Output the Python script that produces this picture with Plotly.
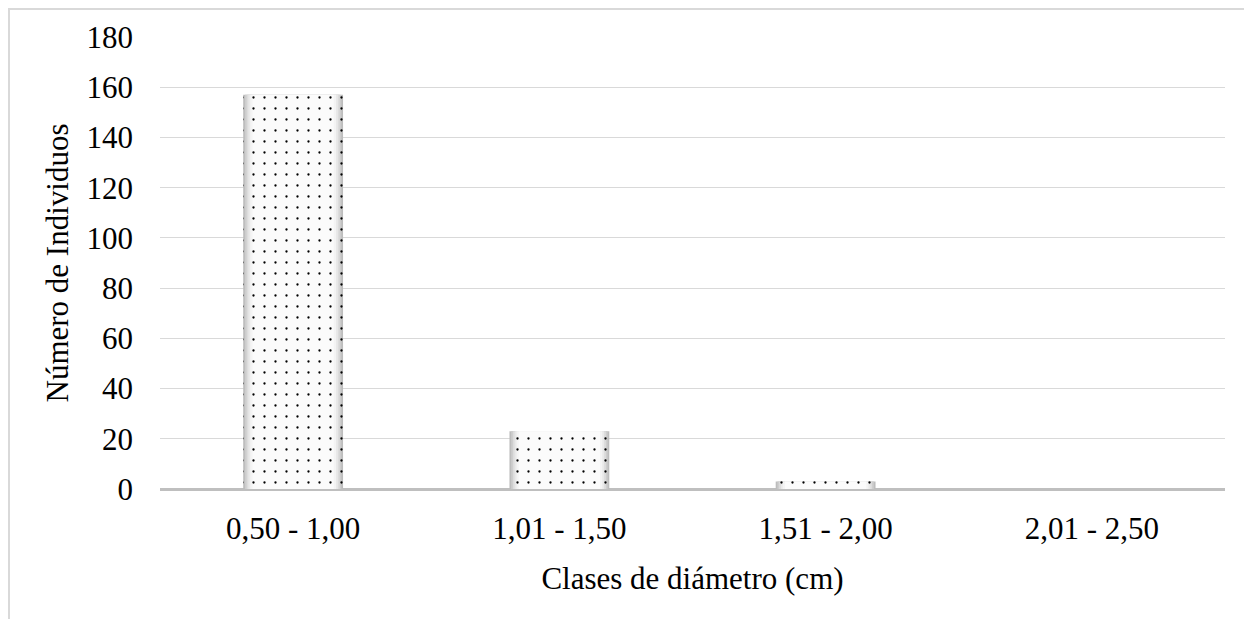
import plotly.graph_objects as go

categories = ["0,50 - 1,00", "1,01 - 1,50", "1,51 - 2,00", "2,01 - 2,50"]
counts = [157, 23, 3, 0]
y_ticks = [0, 20, 40, 60, 80, 100, 120, 140, 160, 180]

FONT = "Liberation Serif"
FS = 31
OFF = 8  # page body offset of the figure

W, H = 1252, 619
ml, mr, mt, mb = 160 - OFF, 27 + OFF, 37 - OFF, 130 + OFF
pw, ph = W - ml - mr, H - mt - mb

fig = go.Figure()
# layered bars to imitate the soft gray-to-white gradient of the original
layers = [(0.375, "#bdbdbd"), (0.362, "#cdcdcd"), (0.349, "#dcdcdc"),
          (0.336, "#e9e9e9"), (0.322, "#f4f4f4"), (0.305, "#fbfbfb")]
for i, (wd, col) in enumerate(layers):
    last = i == len(layers) - 1
    marker = dict(color=col, line=dict(width=0))
    marker["pattern"] = dict(shape=".", fgcolor="#000000", bgcolor=col,
                             size=11, solidity=0.035, fillmode="replace")
    fig.add_trace(go.Bar(
        x=categories, y=counts, width=wd, marker=marker,
        showlegend=False, hoverinfo="x+y" if last else "skip",
    ))

fig.update_layout(
    width=W, height=H,
    margin=dict(l=ml, r=mr, t=mt, b=mb),
    paper_bgcolor="white", plot_bgcolor="white",
    barmode="overlay",
    font=dict(family=FONT, size=FS, color="#000000"),
    xaxis=dict(
        title=dict(text="Clases de diámetro (cm)", font=dict(size=FS), standoff=22),
        showgrid=False, showline=False, zeroline=False,
        ticks="", ticklabelstandoff=18,
    ),
    yaxis=dict(
        title=dict(text="Número de Individuos", font=dict(size=FS), standoff=8),
        range=[0, 180], tickvals=y_ticks,
        showgrid=True, gridcolor="#d9d9d9", gridwidth=1,
        zeroline=True, zerolinecolor="#bfbfbf", zerolinewidth=3,
        showline=False, ticks="", ticklabelstandoff=26,
    ),
    shapes=[dict(
        type="rect", xref="paper", yref="paper",
        x0=(1 - ml) / pw, x1=(W + 20 - ml) / pw,
        y0=-(H + 20 - mt - ph) / ph, y1=(H - 1 - mb) / ph,
        line=dict(color="#d9d9d9", width=2), fillcolor="rgba(0,0,0,0)",
        layer="below",
    )],
)

fig.write_html("out.html")
